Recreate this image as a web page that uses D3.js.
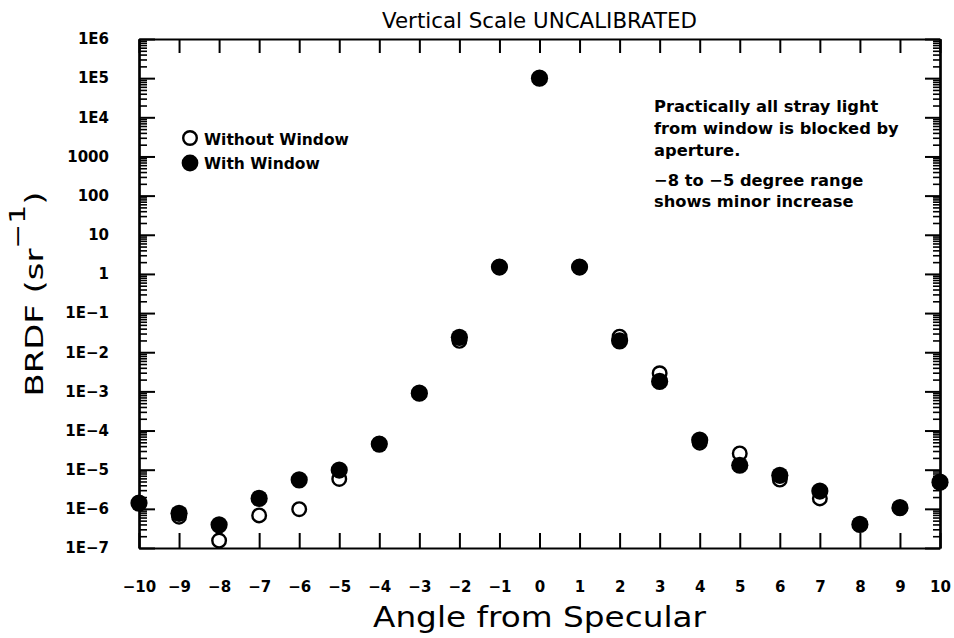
<!DOCTYPE html>
<html>
<head>
<meta charset="utf-8">
<script src="https://cdn.jsdelivr.net/npm/d3@7"></script>
<style>
  body { margin: 0; background: #fff; }
  svg { display: block; }
  .tick text { font-family: "DejaVu Sans", sans-serif; font-weight: bold; font-size: 15px; fill: #000; }
</style>
</head>
<body>
<div id="chart"></div>
<script>
// angles from specular (degrees)
var angles = [-10, -9, -8, -7, -6, -5, -4, -3, -2, -1, 0, 1, 2, 3, 4, 5, 6, 7, 8, 9, 10];

// BRDF, open circles
var withoutWindow = [1.4e-6, 6.3e-7, 1.55e-7, 6.8e-7, 9.8e-7, 5.8e-6, 4.5e-5, 9.0e-4, 1.95e-2, 1.5, 1.0e5,
                     1.5, 2.5e-2, 2.9e-3, 4.9e-5, 2.6e-5, 5.6e-6, 1.85e-6, 4.0e-7, 1.07e-6, 4.8e-6];

// BRDF, filled circles
var withWindow = [1.4e-6, 7.7e-7, 3.9e-7, 1.85e-6, 5.5e-6, 9.8e-6, 4.5e-5, 9.0e-4, 2.4e-2, 1.5, 1.0e5,
                  1.5, 1.95e-2, 1.8e-3, 5.7e-5, 1.3e-5, 7.2e-6, 2.85e-6, 4.0e-7, 1.07e-6, 4.8e-6];

var yDecades = [1e-7, 1e-6, 1e-5, 1e-4, 1e-3, 1e-2, 1e-1, 1, 10, 100, 1000, 1e4, 1e5, 1e6];
var legendLabels = ["Without Window", "With Window"];
var noteLines = ["Practically all stray light", "from window is blocked by", "aperture.",
                 "\u22128 to \u22125 degree range", "shows minor increase"];

var width = 954, height = 638;
var margin = {top: 39, right: 14, bottom: 90, left: 139};
var plotW = width - margin.left - margin.right;
var plotH = height - margin.top - margin.bottom;

var svg = d3.select("#chart").append("svg")
    .attr("width", width)
    .attr("height", height);

var g = svg.append("g")
    .attr("transform", "translate(" + margin.left + "," + margin.top + ")");

var x = d3.scaleLinear().domain([-10, 10]).range([0, plotW]);
var y = d3.scaleLog().domain([1e-7, 1e6]).range([plotH, 0]);

//minor log ticks 2..9 in each decade
var yMinor = [];
yDecades.slice(0, -1).forEach(function(d){
    for (var k = 2; k <= 9; k++) yMinor.push(d * k);
});

function fmtX(d){
    return d < 0 ? "\u2212" + Math.abs(d) : String(d);
}
function fmtY(d){
    var e = Math.round(Math.log10(d));
    if (e < 0) return "1E\u2212" + Math.abs(e);
    if (e <= 3) return String(Math.round(d));
    return "1E" + e;
}

function styleAxis(sel){
    sel.select(".domain").attr("stroke", "#000").attr("stroke-width", 2.2);
    sel.selectAll(".tick line").attr("stroke", "#000").attr("stroke-width", 2);
}

// bottom axis with labels
g.append("g")
    .attr("transform", "translate(0," + plotH + ")")
    .call(d3.axisBottom(x).tickValues(angles).tickSize(-15).tickSizeOuter(0).tickPadding(33).tickFormat(fmtX))
    .call(styleAxis);

// top axis, ticks only
g.append("g")
    .call(d3.axisTop(x).tickValues(angles).tickSize(-14).tickSizeOuter(0).tickFormat(""))
    .call(styleAxis);

// left axis with labels
g.append("g")
    .call(d3.axisLeft(y).tickValues(yDecades).tickSize(-16).tickSizeOuter(0).tickPadding(30).tickFormat(fmtY))
    .call(styleAxis);
g.append("g")
    .call(d3.axisLeft(y).tickValues(yMinor).tickSize(-8).tickSizeOuter(0).tickFormat(""))
    .call(styleAxis)
    .selectAll(".tick line").attr("stroke-width", 1.6);

// right axis, ticks only
g.append("g")
    .attr("transform", "translate(" + plotW + ",0)")
    .call(d3.axisRight(y).tickValues(yDecades).tickSize(-15).tickSizeOuter(0).tickFormat(""))
    .call(styleAxis);
g.append("g")
    .attr("transform", "translate(" + plotW + ",0)")
    .call(d3.axisRight(y).tickValues(yMinor).tickSize(-7).tickSizeOuter(0).tickFormat(""))
    .call(styleAxis)
    .selectAll(".tick line").attr("stroke-width", 1.6);

// open circles first, filled on top
g.append("g").selectAll("circle")
    .data(angles)
    .enter().append("circle")
    .attr("cx", function(d){ return x(d); })
    .attr("cy", function(d, i){ return y(withoutWindow[i]); })
    .attr("r", 6.8)
    .attr("fill", "#fff")
    .attr("stroke", "#000")
    .attr("stroke-width", 2.4);

g.append("g").selectAll("circle")
    .data(angles)
    .enter().append("circle")
    .attr("cx", function(d){ return x(d); })
    .attr("cy", function(d, i){ return y(withWindow[i]); })
    .attr("r", 8.6)
    .attr("fill", "#000");

// title
svg.append("text")
    .attr("x", margin.left + plotW / 2)
    .attr("y", 28)
    .attr("text-anchor", "middle")
    .attr("textLength", 315)
    .attr("lengthAdjust", "spacingAndGlyphs")
    .style("font-family", "DejaVu Sans, sans-serif")
    .style("font-size", "20.5px")
    .text("Vertical Scale UNCALIBRATED");

// x axis title
svg.append("text")
    .attr("x", margin.left + plotW / 2)
    .attr("y", 627)
    .attr("text-anchor", "middle")
    .attr("textLength", 333)
    .attr("lengthAdjust", "spacingAndGlyphs")
    .style("font-family", "DejaVu Sans, sans-serif")
    .style("font-size", "28px")
    .text("Angle from Specular");

// y axis title
var yt = svg.append("text")
    .attr("transform", "translate(43,294) rotate(-90)")
    .attr("text-anchor", "middle")
    .attr("textLength", 205)
    .attr("lengthAdjust", "spacingAndGlyphs")
    .style("font-family", "DejaVu Sans, sans-serif")
    .style("font-size", "25px");
yt.append("tspan").text("BRDF (sr");
yt.append("tspan").attr("dy", -18).style("font-size", "22px").text("\u22121");
yt.append("tspan").attr("dy", 18).text(")");

// legend
var leg = svg.append("g").attr("transform", "translate(190,138)");
leg.append("circle").attr("cx", 0).attr("cy", 0).attr("r", 6.8)
    .attr("fill", "#fff").attr("stroke", "#000").attr("stroke-width", 2.4);
leg.append("circle").attr("cx", 0).attr("cy", 25).attr("r", 8.4).attr("fill", "#000");
leg.selectAll("text")
    .data(legendLabels)
    .enter().append("text")
    .attr("x", 14)
    .attr("y", function(d, i){ return 7 + i * 24; })
    .style("font-family", "DejaVu Sans, sans-serif")
    .style("font-weight", "bold")
    .style("font-size", "15.5px")
    .text(function(d){ return d; });

// note
svg.append("g").selectAll("text")
    .data(noteLines)
    .enter().append("text")
    .attr("x", 654)
    .attr("y", function(d, i){ return [112, 134, 155.5, 185.5, 207][i]; })
    .style("font-family", "DejaVu Sans, sans-serif")
    .style("font-weight", "bold")
    .style("font-size", "16.3px")
    .text(function(d){ return d; });
</script>
</body>
</html>
